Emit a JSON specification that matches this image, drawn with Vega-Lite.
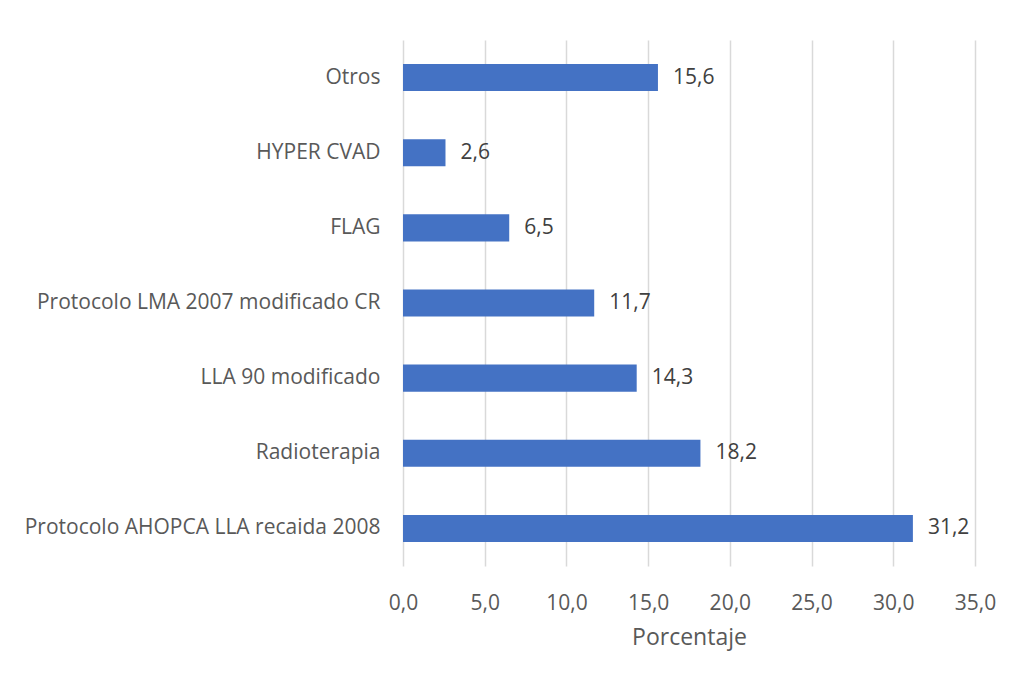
{
  "$schema": "https://vega.github.io/schema/vega-lite/v6.json",
  "width": 572,
  "height": 526,
  "autosize": {"type": "none"},
  "padding": {"left": 403, "top": 40, "right": 37, "bottom": 112},
  "background": "white",
  "data": {"values": [
    {"categoria": "Otros", "porcentaje": 15.6},
    {"categoria": "HYPER CVAD", "porcentaje": 2.6},
    {"categoria": "FLAG", "porcentaje": 6.5},
    {"categoria": "Protocolo LMA 2007 modificado CR ", "porcentaje": 11.7},
    {"categoria": "LLA 90 modificado", "porcentaje": 14.3},
    {"categoria": "Radioterapia", "porcentaje": 18.2},
    {"categoria": "Protocolo AHOPCA LLA recaida 2008", "porcentaje": 31.2}
  ]},
  "encoding": {
    "y": {
      "field": "categoria", "type": "nominal", "sort": null,
      "scale": {"paddingInner": 0.64, "paddingOuter": 0.32},
      "axis": {"title": null, "domain": false, "ticks": false, "labelPadding": 23,
        "labelFont": "Open Sans", "labelFontSize": 21, "labelColor": "#595959", "labelLimit": 400}
    },
    "x": {
      "field": "porcentaje", "type": "quantitative",
      "scale": {"domain": [0, 35], "nice": false},
      "axis": {"title": "Porcentaje", "values": [0,5,10,15,20,25,30,35],
        "labelExpr": "replace(format(datum.value, '.1f'), '.', ',')",
        "domain": false, "ticks": false, "labelPadding": 26, "labelFlush": false, "labelOverlap": false,
        "labelFont": "Open Sans", "labelFontSize": 21, "labelColor": "#595959",
        "titleFont": "Open Sans", "titleFontSize": 23, "titleFontWeight": "normal", "titleColor": "#595959", "titlePadding": 13,
        "grid": true, "gridColor": "#d9d9d9", "gridWidth": 1.5}
    }
  },
  "layer": [
    {"mark": {"type": "bar", "color": "#4472C4"}},
    {"mark": {"type": "text", "align": "left", "baseline": "middle", "dx": 15, "font": "Open Sans", "fontSize": 21, "color": "#404040"},
     "encoding": {"text": {"field": "porcentaje", "type": "quantitative", "format": ".1f"}}}
  ],
  "config": {
    "view": {"stroke": null},
    "locale": {"number": {"decimal": ",", "thousands": ".", "grouping": [3], "currency": ["", " €"]}}
  }
}
